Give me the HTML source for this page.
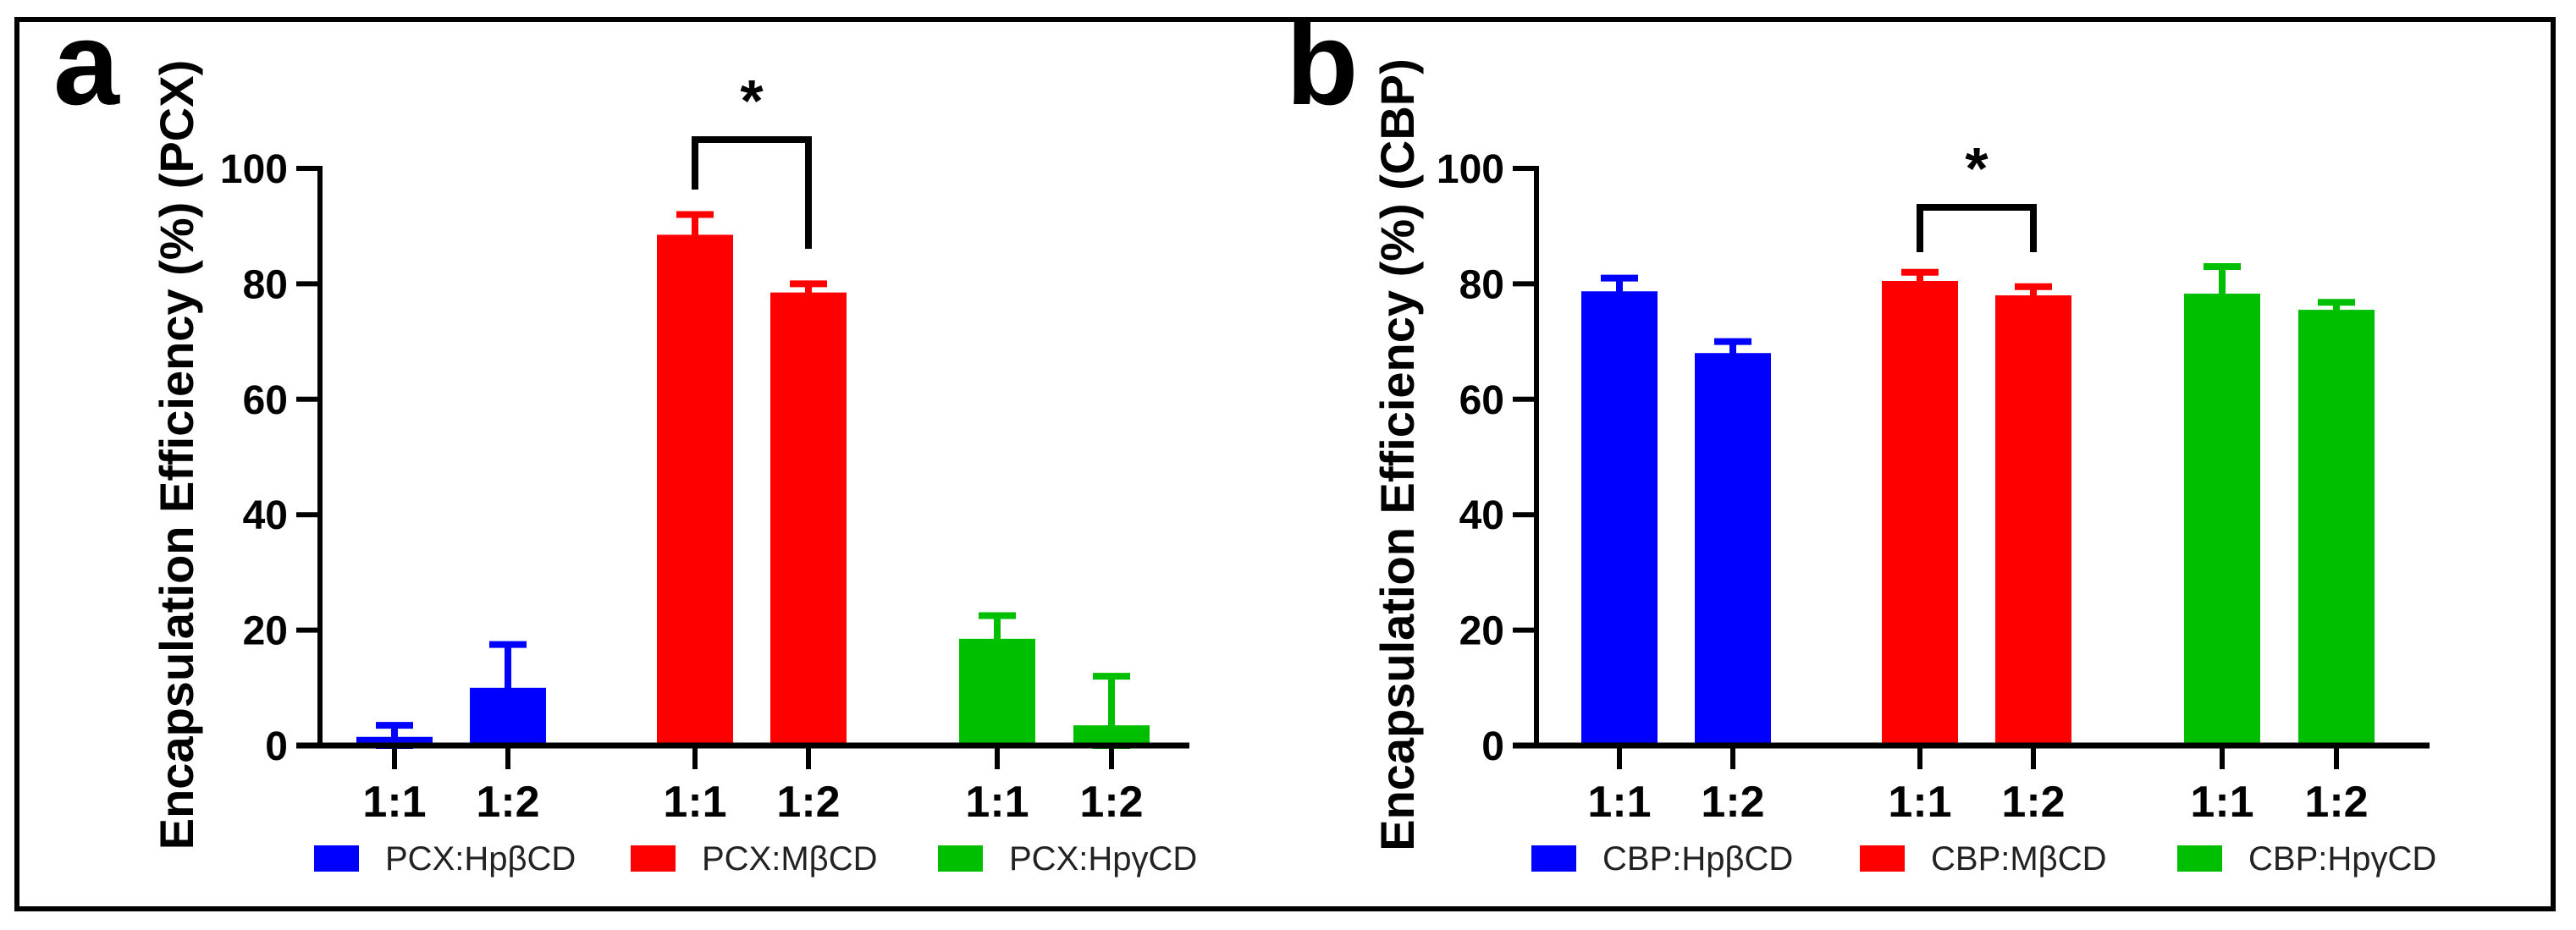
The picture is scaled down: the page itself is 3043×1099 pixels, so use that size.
<!DOCTYPE html>
<html><head><meta charset="utf-8"><style>
html,body{margin:0;padding:0;background:#fff;}
svg{display:block;}
text{font-family:"Liberation Sans",Arial,sans-serif;}
</style></head><body>
<svg id="fig" width="3043" height="1099" viewBox="0 0 3043 1099" xmlns="http://www.w3.org/2000/svg">
<rect x="20" y="23" width="2996" height="1051" fill="none" stroke="#000" stroke-width="6"/>
</svg>
<script>
const ticks=[0,20,40,60,80,100];
const cats=["1:1","1:2","1:1","1:2","1:1","1:2"];
const pcxValues=[1.5,10,88.5,78.5,18.5,3.5];
const pcxErrors=[2,7.5,3.5,1.5,4,8.5];
const cbpValues=[78.7,68,80.5,78,78.3,75.5];
const cbpErrors=[2.3,2,1.5,1.5,4.7,1.3];
const pcxLegend=["PCX:Hp\u03B2CD","PCX:M\u03B2CD","PCX:Hp\u03B3CD"];
const cbpLegend=["CBP:Hp\u03B2CD","CBP:M\u03B2CD","CBP:Hp\u03B3CD"];
const colors=["#0000ff","#ff0000","#00bf00"];
const NS="http://www.w3.org/2000/svg";
const svg=document.getElementById('fig');
function mk(tag,attrs,parent){const e=document.createElementNS(NS,tag);for(const k in attrs)e.setAttribute(k,attrs[k]);(parent||svg).appendChild(e);return e;}

function panel(o){
  const g=mk('g',{});
  
  
  const y0=881,y100=199;
  const ys=v=>y0-(v/100)*(y0-y100);
  const xs=i=>o.x0+[0,134,355,489,712,847][i];
  const lt=mk('text',{x:o.letterX,y:123,'font-size':140,'font-weight':'bold'},g);lt.textContent=o.letter;
  
  
  const tt=mk('text',{transform:`translate(${o.titleX},${(80+995)/2}) rotate(-90)`,'text-anchor':'middle','font-size':56,'font-weight':'bold'},g);tt.textContent=o.title;
  
  
  // bars
  o.values.forEach((v,i)=>{
    const c=colors[Math.floor(i/2)],x=xs(i);
    const hi=ys(v+o.errors[i]),lo=ys(Math.max(0,v-o.errors[i]));
    const eb=mk('g',{},g);
    
    
    mk('line',{x1:x,x2:x,y1:hi,y2:lo,stroke:c,'stroke-width':8},eb);
    mk('line',{x1:x-22,x2:x+22,y1:hi,y2:hi,stroke:c,'stroke-width':8},eb);
    mk('line',{x1:x-22,x2:x+22,y1:lo,y2:lo,stroke:c,'stroke-width':8},eb);
    const b=mk('rect',{x:x-45,y:ys(v),width:90,height:y0-ys(v),fill:c},g);
    
    
    const tk=mk('line',{x1:x,x2:x,y1:y0,y2:909,stroke:'#000','stroke-width':6},g);
    
    
    const tl=mk('text',{x:x,y:965,'text-anchor':'middle','font-size':52,'font-weight':'bold'},g);tl.textContent=cats[i];
    
    
  });
  // axes
  const ya=mk('line',{x1:o.axisX,x2:o.axisX,y1:y100-3,y2:y0,stroke:'#000','stroke-width':6},g);
  
  
  const xa=mk('line',{x1:o.axisX-28,x2:o.axisEnd,y1:y0,y2:y0,stroke:'#000','stroke-width':7},g);
  
  
  ticks.forEach(t=>{
    const l=mk('line',{x1:o.axisX-28,x2:o.axisX,y1:ys(t),y2:ys(t),stroke:'#000','stroke-width':6},g);
    
    
    const tx=mk('text',{x:o.axisX-38,y:ys(t)+17,'text-anchor':'end','font-size':48,'font-weight':'bold'},g);tx.textContent=t;
    
    
  });
  // significance
  const sg=mk('g',{},g);
  
  
  const a=xs(2),b=xs(3);
  mk('path',{d:`M${a} ${o.brL} V${o.brTop} H${b} V${o.brR}`,fill:'none',stroke:'#000','stroke-width':8},sg);
  const st=mk('text',{x:(a+b)/2,y:o.brTop-22,'text-anchor':'middle','font-size':70,'font-weight':'bold'},sg);st.textContent='*';
  // legend
  o.legend.forEach((s,i)=>{
    const lg=mk('g',{},g);
    
    
    mk('rect',{x:o.legX[i],y:999,width:53,height:31,fill:colors[i]},lg);
    const t=mk('text',{x:o.legX[i]+84,y:1028,'font-size':40,fill:'#222'},lg);t.textContent=s;
  });
}
panel({letter:'a',letterX:63,title:'Encapsulation Efficiency (%) (PCX)',titleX:228,x0:466,axisX:378,axisEnd:1405,
  values:pcxValues,errors:pcxErrors,legend:pcxLegend,legX:[371,745,1108],brTop:165,brL:224,brR:294});
panel({letter:'b',letterX:1519,title:'Encapsulation Efficiency (%) (CBP)',titleX:1670,x0:1913,axisX:1815,axisEnd:2870,
  values:cbpValues,errors:cbpErrors,legend:cbpLegend,legX:[1809,2197,2572],brTop:245,brL:298,brR:298});
</script>
</body></html>
